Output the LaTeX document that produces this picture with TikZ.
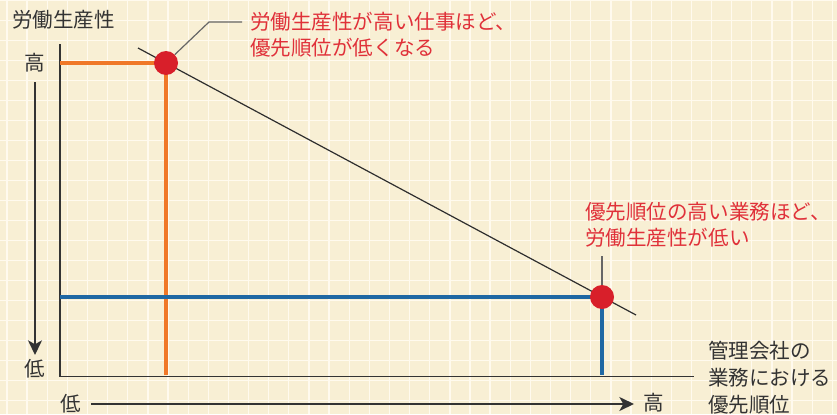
\documentclass[tikz,border=0pt]{standalone}
\usepackage{fontspec}
\setmainfont{Noto Sans CJK JP}
\usetikzlibrary{arrows.meta}
\definecolor{bg}{HTML}{F8EFD4}
\definecolor{gridc}{HTML}{FFFAEE}
\definecolor{ink}{HTML}{333333}
\definecolor{redtxt}{HTML}{E0313A}
\definecolor{dotred}{HTML}{D81F2A}
\definecolor{orangel}{HTML}{F07828}
\definecolor{bluel}{HTML}{1F68A3}
\definecolor{leadc}{HTML}{666666}
\tikzset{
  gridline/.style={draw=gridc, line width=1pt},
  axisline/.style={draw=ink, line width=1.3pt},
  trend/.style={draw=ink!90!black, line width=0.9pt},
  orangeline/.style={draw=orangel, line width=2.8pt},
  blueline/.style={draw=bluel, line width=2.8pt},
  leader/.style={draw=leadc, line width=0.9pt},
  dot/.style={circle, fill=dotred, minimum size=18pt, inner sep=0pt},
  lbl/.style={font=\fontsize{15.4}{19.5}\selectfont, text=ink, inner sep=0pt},
  rlbl/.style={font=\fontsize{15.4}{19.5}\selectfont, text=redtxt, inner sep=0pt, anchor=west},
  axarrow/.style={draw=ink, line width=1.2pt, -{Stealth[length=11pt, width=10.5pt, inset=3pt]}},
}
\begin{document}
\begin{tikzpicture}[x=0.75pt, y=-0.75pt]
\useasboundingbox (0,0) rectangle (837,414);
\fill[bg] (0,0) rectangle (837,414);
\foreach \i in {0,...,41} \draw[gridline] ({7+20.13*\i},0) -- ({7+20.13*\i},414);
\foreach \j in {0,...,20} \draw[gridline] (0,{0.7+20*\j}) -- (837,{0.7+20*\j});

% key coordinates
\coordinate (o) at (60,376.5);
\coordinate (ytop) at (60,44);
\coordinate (xend) at (694,376.5);
\coordinate (c1) at (166,63);
\coordinate (c2) at (602,297);
\coordinate (d1) at (138,48);
\coordinate (d2) at (636,315);

% axes
\draw[axisline] (ytop) -- (o) -- (xend);

% trend line
\draw[trend] (d1) -- (d2);

% guide lines
\draw[orangeline] (o |- c1) -- (c1) -- ([yshift=0.9pt]c1 |- o);
\draw[blueline] (o |- c2) -- (c2) -- ([yshift=0.9pt]c2 |- o);

% dots
\node[dot] (p1) at (c1) {};
\node[dot] (p2) at (c2) {};

% leaders
\coordinate (l1a) at (209,22);
\coordinate (l1b) at (242,22);
\draw[leader] (p1) -- (l1a) -- (l1b);
\coordinate (l2) at (602,256);
\draw[leader] (p2) -- (l2);

% red callouts
\node[rlbl] (t1a) at (250,21.7) {労働生産性が高い仕事ほど、};
\node[rlbl] (t1b) at (250,48) {優先順位が低くなる};
\node[rlbl] (t2a) at (585,212) {優先順位の高い業務ほど、};
\node[rlbl] (t2b) at (585,237.5) {労働生産性が低い};

% y axis labels
\node[lbl, anchor=west] (ylab) at (12,20) {労働生産性};
\node[lbl] (hi1) at (34.7,62.7) {高};
\node[lbl] (lo1) at (35,369) {低};
\coordinate (ya1) at (35,82);
\coordinate (ya2) at (35,355);
\draw[axarrow] (ya1) -- (ya2);

% x axis labels
\node[lbl] (lo2) at (70.5,404) {低};
\node[lbl] (hi2) at (654,403) {高};
\coordinate (xa1) at (91,404);
\coordinate (xa2) at (634,404);
\draw[axarrow] (xa1) -- (xa2);
\node[lbl, anchor=west] (xl1) at (708,350.5) {管理会社の};
\node[lbl, anchor=west] (xl2) at (708,378) {業務における};
\node[lbl, anchor=west] (xl3) at (708,404.5) {優先順位};
\end{tikzpicture}
\end{document}
